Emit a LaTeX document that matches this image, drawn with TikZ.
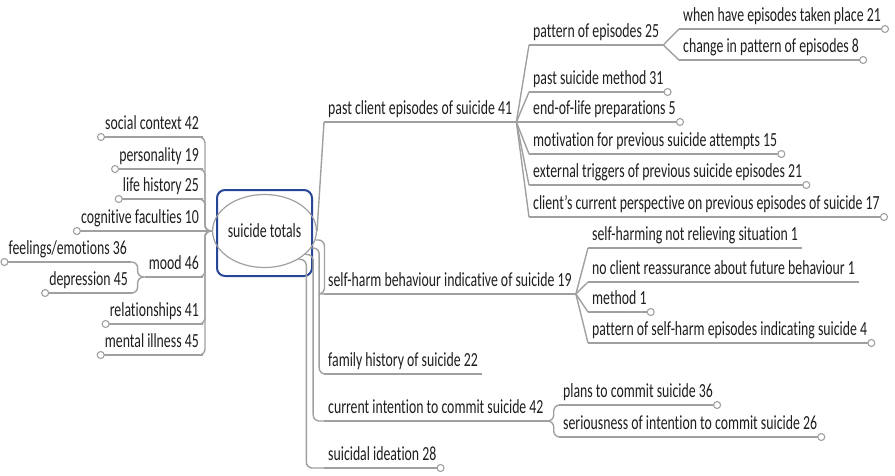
\documentclass[tikz,border=0pt]{standalone}
\usepackage{fontspec}
\setmainfont{Carlito}[FakeStretch=0.69, Ligatures=NoCommon]
\usetikzlibrary{shapes.geometric}
\definecolor{linkgray}{RGB}{160,160,160}
\definecolor{textgray}{RGB}{30,30,30}
\definecolor{frameblue}{RGB}{40,70,150}
\tikzset{
  topic/.style={inner xsep=4pt, inner ysep=2pt, text height=14pt, text depth=5pt,
    text=textgray, font=\fontsize{20}{24}\selectfont},
  rtopic/.style={topic, anchor=south west},
  ltopic/.style={topic, anchor=south east},
  hub/.style={ellipse, draw=linkgray, line width=1.2pt, minimum width=88pt,
    minimum height=73pt, inner sep=0pt, text=textgray, font=\fontsize{20}{24}\selectfont},
  frame/.style={draw=frameblue, line width=2pt, rounded corners=8pt,
    minimum width=95pt, minimum height=86pt},
  link/.style={draw=linkgray, line width=1.4pt, rounded corners=6pt},
  branch/.style={to path={-- ++(#1,0) |- (\tikztotarget)}},
  branch/.default=7,
  uline/.style={draw=linkgray, line width=1.4pt},
  dot/.style={draw=linkgray, fill=white, line width=1.1pt},
}
\begin{document}
\begin{tikzpicture}[x=1pt,y=-1pt]
  \useasboundingbox (0,0) rectangle (895,475);
  % centre
  \node[frame] (box) at (264.5,233) {};
  \node[hub] (total) at (264.5,231) {suicide totals};
  % left side
  \draw
    (203,137) node[ltopic] (social){social context 42}
    (203,169) node[ltopic] (person){personality 19}
    (203,199) node[ltopic] (life){life history 25}
    (203,231) node[ltopic] (cogn){cognitive faculties 10}
    (203,277) node[ltopic] (mood){mood 46}
    (131,262) node[ltopic] (feel){feelings/emotions 36}
    (132,293) node[ltopic] (depr){depression 45}
    (203,324) node[ltopic] (relat){relationships 41}
    (203,355) node[ltopic] (mental){mental illness 45};
  % right side
  \draw
    (324,122) node[rtopic] (past){past client episodes of suicide 41}
    (529,45) node[rtopic] (pattern){pattern of episodes 25}
    (679,29) node[rtopic] (when){when have episodes taken place 21}
    (679,60) node[rtopic] (change){change in pattern of episodes 8}
    (529,92) node[rtopic] (method){past suicide method 31}
    (529,122) node[rtopic] (prep){end-of-life preparations 5}
    (529,154) node[rtopic] (motiv){motivation for previous suicide attempts 15}
    (529,185) node[rtopic] (trigger){external triggers of previous suicide episodes 21}
    (529,217) node[rtopic] (view){client's current perspective on previous episodes of suicide 17}
    (324,294) node[rtopic] (harm){self-harm behaviour indicative of suicide 19}
    (588,248) node[rtopic] (relief){self-harming not relieving situation 1}
    (588,282) node[rtopic] (assure){no client reassurance about future behaviour 1}
    (588,312) node[rtopic] (hmethod){method 1}
    (588,343) node[rtopic] (hpattern){pattern of self-harm episodes indicating suicide 4}
    (324,374) node[rtopic] (family){family history of suicide 22}
    (324,421) node[rtopic] (intent){current intention to commit suicide 42}
    (559,405) node[rtopic] (plans){plans to commit suicide 36}
    (559,437) node[rtopic] (serious){seriousness of intention to commit suicide 26}
    (324,468) node[rtopic] (ideation){suicidal ideation 28};
  \foreach \n in {social,person,life,cogn,mood,feel,depr,relat,mental,
      past,pattern,when,change,method,prep,motiv,trigger,view,
      harm,relief,assure,hmethod,hpattern,family,intent,plans,serious,ideation}
    \draw[uline] (\n.south west) -- (\n.south east);
  \begin{scope}[link]
    \draw (total.west) to[branch=-7] (social.south east);
    \draw (total.west) to[branch=-7] (person.south east);
    \draw (total.west) to[branch=-7] (life.south east);
    \draw (total.west) -- (cogn.south east);
    \draw (total.west) to[branch=-7] (mood.south east);
    \draw (total.west) to[branch=-7] (relat.south east);
    \draw (total.west) to[branch=-7] (mental.south east);
    \draw (mood.south west) to[branch=-7] (feel.south east);
    \draw (mood.south west) to[branch=-7] (depr.south east);
    \draw (total.east) to (past.south west);
    \draw (total.-10) to[branch=9] (harm.south west);
    \draw (total.-20) to[branch=8] (family.south west);
    \draw (total.-30) to[branch=8] (intent.south west);
    \draw (total.-40) to[branch=8] (ideation.south west);
    \draw (past.south east) to (pattern.south west);
    \draw (past.south east) to (method.south west);
    \draw (past.south east) -- (prep.south west);
    \draw (past.south east) to (motiv.south west);
    \draw (past.south east) to (trigger.south west);
    \draw (past.south east) to (view.south west);
    \draw (pattern.south east) to (when.south west);
    \draw (pattern.south east) to (change.south west);
    \draw (harm.south east) to (relief.south west);
    \draw (harm.south east) to (assure.south west);
    \draw (harm.south east) to (hmethod.south west);
    \draw (harm.south east) to (hpattern.south west);
    \draw (intent.south east) to[branch=6] (plans.south west);
    \draw (intent.south east) to[branch=6] (serious.south west);
  \end{scope}
  \foreach \n in {social,person,life,cogn,feel,depr,relat,mental}
    \draw[dot] (\n.south west) circle[radius=3.5pt];
  \foreach \n in {when,change,method,prep,motiv,trigger,view,hmethod,hpattern,plans,serious,ideation}
    \draw[dot] (\n.south east) circle[radius=3.5pt];
\end{tikzpicture}
\end{document}
